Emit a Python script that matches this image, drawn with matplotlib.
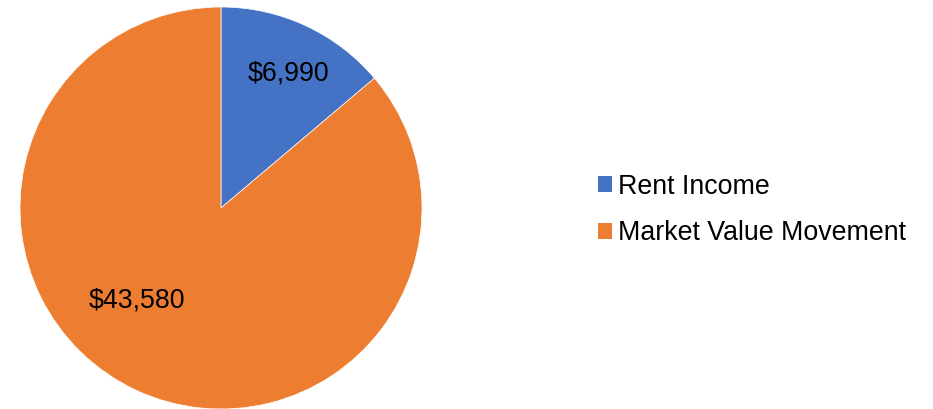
import numpy as np
import matplotlib.pyplot as plt
from matplotlib.patches import Patch

plt.rcParams['font.family'] = ['Liberation Sans', 'DejaVu Sans']

categories = ['Rent Income', 'Market Value Movement']
values = [6990, 43580]
labels = ['$6,990', '$43,580']
colors = ['#4472C4', '#ED7D31']

fig = plt.figure(figsize=(9.33, 4.09), dpi=100)
ax = fig.add_axes([20 / 933, 0 / 409, 402 / 933, 402 / 409])

wedges, _ = ax.pie(values, colors=colors, startangle=90, counterclock=False,
                   radius=1, wedgeprops=dict(linewidth=0.5, edgecolor='white'))

# label placement (radius fraction, angle in degrees)
label_pos = [(0.75, 63.3), (0.62, -132.4)]
for lab, (r, a) in zip(labels, label_pos):
    ax.text(r * np.cos(np.radians(a)), r * np.sin(np.radians(a)), lab,
            ha='center', va='center', fontsize=19.3, color='black')

ax.set_xlim(-1, 1)
ax.set_ylim(-1, 1)
ax.set_aspect('equal')
ax.axis('off')

handles = [Patch(facecolor=c, edgecolor='none') for c in colors]
fig.legend(handles, categories, loc='center left', bbox_to_anchor=(598 / 933, 1 - 210 / 409),
           frameon=False, fontsize=19.3, handlelength=0.52, handleheight=0.52,
           handletextpad=0.22, labelspacing=0.78, borderpad=0, borderaxespad=0)

fig.savefig('out.png', dpi=100)
